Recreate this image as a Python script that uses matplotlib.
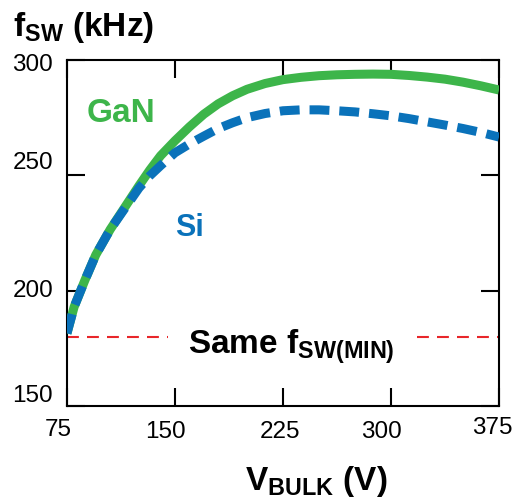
import matplotlib
matplotlib.use("Agg")
import matplotlib.pyplot as plt
import matplotlib.transforms as mtransforms

plt.rcParams['font.family'] = ['Liberation Sans', 'DejaVu Sans']
plt.rcParams['mathtext.fontset'] = 'custom'
plt.rcParams['mathtext.rm'] = 'Liberation Sans'
plt.rcParams['mathtext.bf'] = 'Liberation Sans:bold'
plt.rcParams['mathtext.it'] = 'Liberation Sans:italic'

# switching frequency vs bulk voltage
v_bulk = [75, 80, 87.5, 95, 105, 115, 125, 132.5, 140, 150, 160, 170, 180, 190, 200,
          212.5, 225, 237.5, 250, 262.5, 275, 287.5, 300, 312.5, 325, 337.5, 350, 362.5, 375]
fsw_gan = [181.5, 193, 204.6, 215.5, 226.5, 236, 245.5, 252.3, 258.5, 265, 271, 276.5, 281, 284.5, 287.3,
           289.8, 291.5, 292.5, 293.2, 293.6, 293.8, 293.9, 293.8, 293.3, 292.6, 291.7, 290.4, 288.8, 287]
fsw_si = [181.5, 193, 204.6, 215.5, 226.5, 235.5, 244.5, 249.8, 254.2, 259.8, 263.6, 267, 270.3, 272.8, 275,
          276.8, 278, 278.4, 278.4, 278, 277.5, 276.7, 275.8, 274.6, 273.2, 271.8, 270.3, 268.6, 266.6]

fsw_min = 180
x_ticks = [75, 150, 225, 300, 375]
y_ticks = [150, 200, 250, 300]

green = '#3db54a'
blue = '#0a72ba'
red = '#e8262a'

fig = plt.figure(figsize=(5.15, 5.01), dpi=100)
ax = fig.add_axes([0.130, 0.1896, 0.839, 0.6906])

ax.plot(v_bulk, fsw_gan, color=green, lw=6.5, solid_capstyle='butt',
        solid_joinstyle='round', zorder=3)
si_line, = ax.plot(v_bulk, fsw_si, color=blue, lw=6.5, dash_capstyle='butt',
                   dash_joinstyle='round', zorder=4)
si_line.set_dashes([2.2, 1.1])

# minimum frequency marker, broken around the label
ax.plot([75, 145], [fsw_min, fsw_min], color=red, lw=1.5, dashes=(5.7, 3.9), zorder=2)
ax.plot([318, 375], [fsw_min, fsw_min], color=red, lw=1.5, dashes=(5.7, 3.9), zorder=2)

ax.set_xlim(75, 375)
ax.set_ylim(150, 300)
ax.set_xticks(x_ticks)
ax.set_yticks(y_ticks)
ax.tick_params(direction='in', length=13, width=1.5, labelsize=17.5,
               top=True, right=True)
ax.tick_params(axis='x', pad=11)
ax.tick_params(axis='y', pad=10)
for s in ax.spines.values():
    s.set_linewidth(1.5)

# nudge tick labels (pixel offsets)
x_nudge = [(-8.5, 2.5), (-10, 0), (-3, 0), (-10, 0), (-6.5, 4.5)]
y_nudge = [13, 2.5, 14.5, -2.5]
for lab, (dx, dy) in zip(ax.get_xticklabels(), x_nudge):
    lab.set_transform(lab.get_transform() +
                      mtransforms.ScaledTranslation(dx / 100, dy / 100, fig.dpi_scale_trans))
for lab, dy in zip(ax.get_yticklabels(), y_nudge):
    lab.set_transform(lab.get_transform() +
                      mtransforms.ScaledTranslation(0, dy / 100, fig.dpi_scale_trans))

ax.text(0.045, 0.82, 'GaN', transform=ax.transAxes, color=green,
        fontsize=24, fontweight='bold')
ax.text(0.25, 0.49, 'Si', transform=ax.transAxes, color=blue,
        fontsize=22, fontweight='bold')

fig.text(188 / 515, 1 - 354 / 501, r'Same $\mathbf{f_{SW(MIN)}}$',
         fontsize=24, fontweight='bold', ha='left', va='baseline')
fig.text(13 / 515, 1 - 36 / 501, r'$\mathbf{f_{SW}}$ (kHz)',
         fontsize=24, fontweight='bold', ha='left', va='baseline')
fig.text(245 / 515, 1 - 490 / 501, r'$\mathbf{V_{BULK}}$ (V)',
         fontsize=24, fontweight='bold', ha='left', va='baseline')

fig.savefig('out.png', dpi=100)
